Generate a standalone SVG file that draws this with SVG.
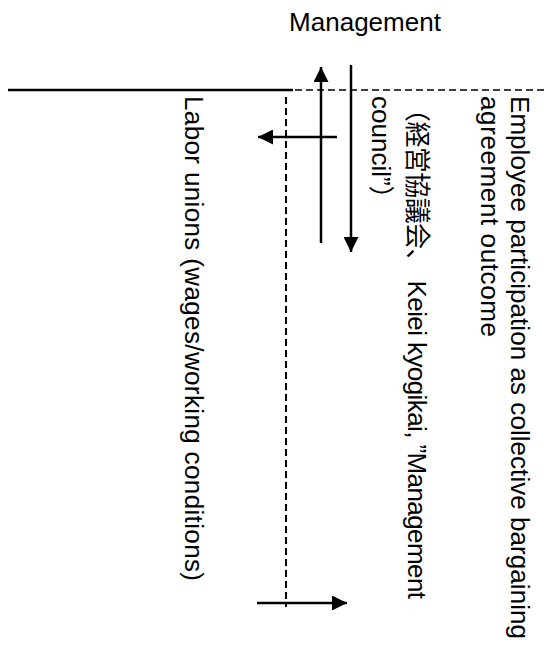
<svg xmlns="http://www.w3.org/2000/svg" width="547" height="648" viewBox="0 0 547 648">
<defs>
<style>
.t{font-family:"Liberation Sans","Noto Sans CJK JP",sans-serif;font-size:26px;fill:#000}
.ln{stroke:#000;fill:none;stroke-width:2.5}
.dash{stroke:#000;fill:none;stroke-width:2;stroke-dasharray:7 4}
</style>
<marker id="ah" viewBox="0 0 10 10" refX="10" refY="5" markerWidth="6" markerHeight="6" markerUnits="strokeWidth" orient="auto">
<path d="M0,0 L10,5 L0,10 z" fill="#000"/>
</marker>
</defs>
<rect width="547" height="648" fill="#fff"/>
<g id="management"><text class="t" x="365" y="31" text-anchor="middle">Management</text></g>
<g id="boundary">
<line class="ln" x1="8" y1="90" x2="293" y2="90"/>
<line class="dash" x1="295" y1="90" x2="547" y2="90" style="stroke-width:1.5"/>
<line class="dash" x1="286" y1="97" x2="286" y2="607"/>
</g>
<g id="employee-participation">
<text class="t" transform="translate(511,96) rotate(90)" textLength="543" lengthAdjust="spacing">Employee participation as collective bargaining</text>
<text class="t" transform="translate(481,96) rotate(90)" textLength="241" lengthAdjust="spacing">agreement outcome</text>
</g>
<g id="keiei-kyogikai">
<text class="t" transform="translate(408,96) rotate(90)" textLength="503" lengthAdjust="spacing">（経営協議会、 Keiei kyogikai, ”Management</text>
<text class="t" transform="translate(372,96) rotate(90)">council”）</text>
</g>
<g id="labor-unions">
<text class="t" transform="translate(185,96) rotate(90)" textLength="485" lengthAdjust="spacing">Labor  unions (wages/working conditions)</text>
</g>
<g id="connectors">
<line class="ln" x1="321" y1="243" x2="321" y2="67" marker-end="url(#ah)"/>
<line class="ln" x1="351" y1="65" x2="351" y2="252" marker-end="url(#ah)"/>
<line class="ln" x1="337" y1="137" x2="258" y2="137" marker-end="url(#ah)"/>
<line class="ln" x1="257" y1="603" x2="347" y2="603" marker-end="url(#ah)"/>
</g>
</svg>
